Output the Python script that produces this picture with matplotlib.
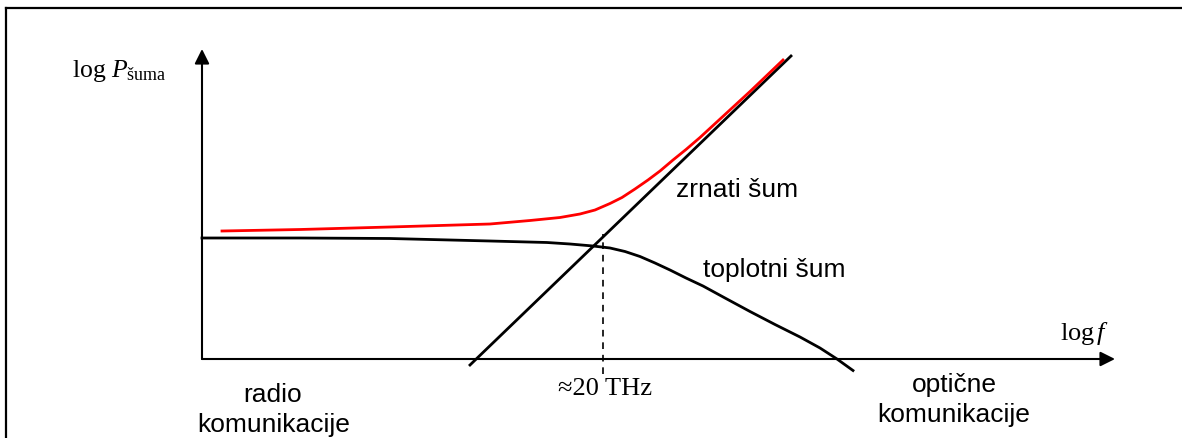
import matplotlib
matplotlib.use("Agg")
from matplotlib import pyplot as plt
from matplotlib.lines import Line2D

plt.rcParams['mathtext.fontset'] = 'custom'
plt.rcParams['mathtext.rm'] = 'Liberation Serif'
plt.rcParams['mathtext.it'] = 'Liberation Serif:italic'

# schematic units: origin at the axes corner
# skupni sum (red)
total_x = [0.20, 0.98, 1.88, 2.88, 3.28, 3.58, 3.78, 3.93, 4.08, 4.20, 4.33, 4.46,
           4.58, 4.71, 4.84, 4.98, 5.23, 5.48, 5.81]
total_y = [1.28, 1.295, 1.32, 1.35, 1.385, 1.415, 1.45, 1.49, 1.555, 1.615, 1.70, 1.79,
           1.88, 1.99, 2.095, 2.215, 2.445, 2.675, 2.99]
# toplotni sum
thermal_x = [0.0, 0.98, 1.88, 2.88, 3.45, 3.68, 3.91, 4.08, 4.23, 4.38, 4.53, 4.68,
             4.84, 5.01, 5.23, 5.48, 5.73, 5.98, 6.18, 6.35, 6.51]
thermal_y = [1.21, 1.21, 1.205, 1.18, 1.165, 1.15, 1.13, 1.11, 1.075, 1.025, 0.96, 0.89,
             0.81, 0.73, 0.61, 0.475, 0.345, 0.22, 0.11, 0.0, -0.115]
# zrnati sum (straight line)
shot_x = [2.68, 5.89]
shot_y = [-0.06, 3.03]
# crossover
f_cross = 4.01
cross_y = [-0.15, 1.25]

x_end = 9.13
y_end = 3.10

fig = plt.figure(figsize=(11.82, 4.39), dpi=100)
ax = fig.add_axes([0, 0, 1, 1])
ax.set_xlim(-2.02, 9.80)
ax.set_ylim(-0.79, 3.60)
ax.axis('off')

# frame (only left and top edges visible)
fig.add_artist(Line2D([6 / 1182, 6 / 1182], [0, 1 - 9 / 439], color='k', lw=1.6))
fig.add_artist(Line2D([6 / 1182, 1], [1 - 9 / 439, 1 - 9 / 439], color='k', lw=1.6))

# axes arrows
ax.annotate('', xy=(x_end, 0), xytext=(0, 0),
            arrowprops=dict(arrowstyle='-|>', mutation_scale=22, lw=1.5, color='k',
                            shrinkA=0, shrinkB=0))
ax.annotate('', xy=(0, y_end), xytext=(0, 0),
            arrowprops=dict(arrowstyle='-|>', mutation_scale=22, lw=1.5, color='k',
                            shrinkA=0, shrinkB=0))

ax.plot(thermal_x, thermal_y, color='k', lw=2, solid_joinstyle='round')
ax.plot(shot_x, shot_y, color='k', lw=2)
ax.plot(total_x, total_y, color='#ff0000', lw=2, solid_joinstyle='round')
ax.plot([f_cross, f_cross], cross_y, color='k', lw=1.2, dashes=(4, 3.5))

serif = 'Liberation Serif'
sans = 'Liberation Sans'
ax.text(-1.30, 2.83, r'$\mathrm{log}\ P_{\mathrm{šuma}}$', fontsize=18.5, va='baseline', ha='left')
ax.text(8.58, 0.20, r'$\mathrm{log}\,f$', fontsize=19, va='baseline', ha='left')
ax.text(3.56, -0.35, '\u224820 THz', family=serif, fontsize=19, va='baseline', ha='left')

ax.text(4.74, 1.63, 'zrnati šum', family=sans, fontsize=19, va='baseline', ha='left')
ax.text(5.01, 0.83, 'toplotni šum', family=sans, fontsize=19, va='baseline', ha='left')

ax.text(0.705, -0.42, 'radio', family=sans, fontsize=19, va='baseline', ha='center')
ax.text(0.715, -0.72, 'komunikacije', family=sans, fontsize=19, va='baseline', ha='center')
ax.text(7.52, -0.32, 'optične', family=sans, fontsize=19, va='baseline', ha='center')
ax.text(7.52, -0.62, 'komunikacije', family=sans, fontsize=19, va='baseline', ha='center')

fig.savefig('out.png', dpi=100)
